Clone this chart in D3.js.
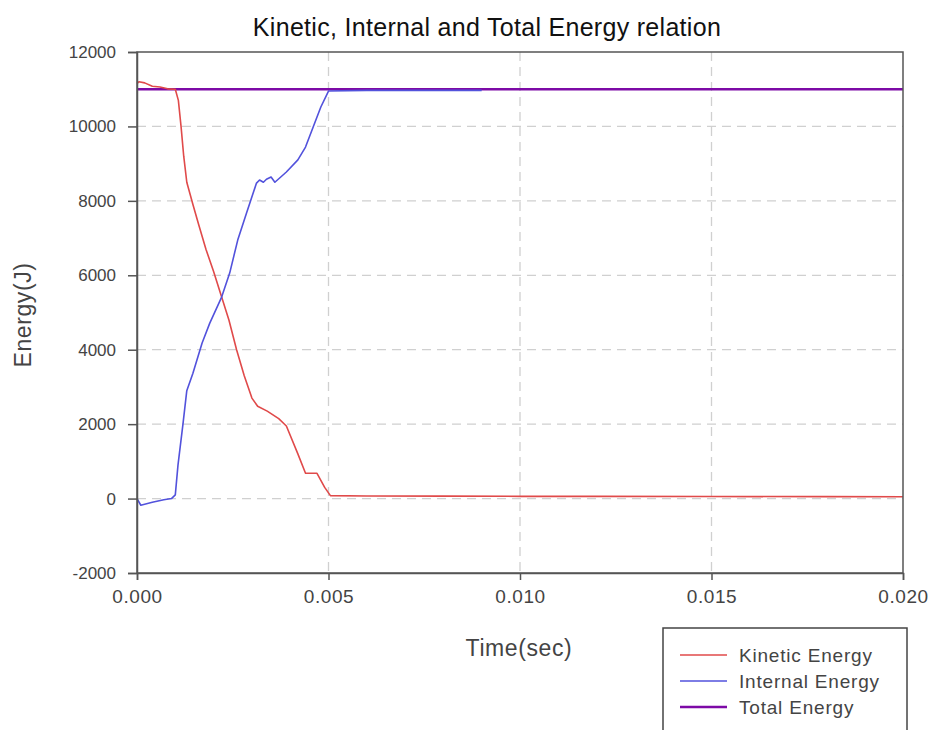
<!DOCTYPE html>
<html lang="en">
<head>
  <meta charset="UTF-8">
  <title>Kinetic, Internal and Total Energy relation</title>
  <script src="https://d3js.org/d3.v7.min.js"></script>
  <style>
    body { margin: 0; background: #fff; }
    svg text { font-family: "Liberation Sans", Arial, sans-serif; }
  </style>
</head>
<body>
  <div id="chart"></div>
  <script>
    // Kinetic energy (time in sec, energy in J)
    const kineticTime = [0, 0.00005, 0.0002, 0.0004, 0.0006, 0.0008, 0.001, 0.00108, 0.00115, 0.00122, 0.0013,
      0.00146, 0.0016, 0.0018, 0.002, 0.00221, 0.0024, 0.0026, 0.0028, 0.003, 0.00315, 0.0034,
      0.0037, 0.0039, 0.0042, 0.0044, 0.0047, 0.0049, 0.00505, 0.006, 0.008, 0.010, 0.012,
      0.015, 0.018, 0.020];
    const kineticEnergy = [11150, 11200, 11170, 11080, 11060, 11010, 11000, 10700, 10000, 9200, 8500,
      7900, 7400, 6700, 6100, 5414, 4800, 4000, 3300, 2700, 2480, 2350,
      2150, 1950, 1200, 680, 680, 300, 80, 70, 65, 60, 58,
      55, 52, 50];

    // Internal energy
    const internalTime = [0, 0.0001, 0.0004, 0.0007, 0.0009, 0.001, 0.00107, 0.0012, 0.00125, 0.0013,
      0.00146, 0.0017, 0.0019, 0.00221, 0.00242, 0.00263, 0.00286, 0.00312, 0.0032, 0.0033,
      0.00338, 0.0035, 0.0036, 0.0039, 0.0042, 0.0044, 0.0046, 0.0048, 0.005, 0.006, 0.009];
    const internalEnergy = [0, -180, -100, -30, 0, 100, 900, 2000, 2450, 2900,
      3370, 4180, 4715, 5414, 6059, 6946, 7672, 8478, 8560, 8500,
      8580, 8640, 8500, 8775, 9100, 9446, 9984, 10522, 10950, 10970, 10970];

    // Total energy
    const totalTime = [0, 0.005, 0.010, 0.015, 0.020];
    const totalEnergy = [11000, 11000, 11000, 11000, 11000];

    const xTicks = [0, 0.005, 0.010, 0.015, 0.020];
    const yTicks = [-2000, 0, 2000, 4000, 6000, 8000, 10000, 12000];
    const seriesNames = ["Kinetic Energy", "Internal Energy", "Total Energy"];
    const seriesColors = ["#e04a4a", "#5252dc", "#7d0aa6"];

    const width = 932, height = 730;
    const margin = { top: 52, right: 29, bottom: 157, left: 137 };
    const plotW = width - margin.left - margin.right;
    const plotH = height - margin.top - margin.bottom;

    const svg = d3.select("#chart").append("svg")
      .attr("width", width)
      .attr("height", height);

    const x = d3.scaleLinear().domain([0, 0.020]).range([0, plotW]);
    const y = d3.scaleLinear().domain([-2000, 12000]).range([plotH, 0]);

    const g = svg.append("g")
      .attr("transform", `translate(${margin.left},${margin.top})`);

    // Grid
    g.append("g").selectAll("line")
      .data(yTicks.filter(d => d > -2000 && d < 12000))
      .enter().append("line")
      .attr("x1", 0).attr("x2", plotW)
      .attr("y1", d => y(d)).attr("y2", d => y(d))
      .attr("stroke", "#d0d0d0")
      .attr("stroke-width", 1.3)
      .attr("stroke-dasharray", "9,6");

    g.append("g").selectAll("line")
      .data(xTicks.filter(d => d > 0 && d < 0.020))
      .enter().append("line")
      .attr("x1", d => x(d)).attr("x2", d => x(d))
      .attr("y1", 0).attr("y2", plotH)
      .attr("stroke", "#d0d0d0")
      .attr("stroke-width", 1.3)
      .attr("stroke-dasharray", "9,6");

    // Lines
    const line = d3.line().x(d => x(d[0])).y(d => y(d[1]));
    const series = [
      { time: totalTime, energy: totalEnergy, width: 2.6 },
      { time: kineticTime, energy: kineticEnergy, width: 1.6 },
      { time: internalTime, energy: internalEnergy, width: 1.6 }
    ];
    const colorIndex = [2, 0, 1];
    series.forEach((s, i) => {
      g.append("path")
        .datum(s.time.map((t, j) => [t, s.energy[j]]))
        .attr("fill", "none")
        .attr("stroke", seriesColors[colorIndex[i]])
        .attr("stroke-width", s.width)
        .attr("stroke-linejoin", "round")
        .attr("d", line);
    });

    // Frame
    g.append("rect")
      .attr("width", plotW).attr("height", plotH)
      .attr("fill", "none")
      .attr("stroke", "#555")
      .attr("stroke-width", 1.5);

    // Axes
    const xAxis = g.append("g")
      .attr("transform", `translate(0,${plotH})`)
      .call(d3.axisBottom(x).tickValues(xTicks).tickFormat(d3.format(".3f")).tickSize(7).tickPadding(10));
    const yAxis = g.append("g")
      .call(d3.axisLeft(y).tickValues(yTicks).tickFormat(d => String(d)).tickSize(9).tickPadding(12));

    [xAxis, yAxis].forEach(a => {
      a.select(".domain").attr("stroke", "#555").attr("stroke-width", 1.5);
      a.selectAll(".tick line").attr("stroke", "#555").attr("stroke-width", 1.5);
      a.selectAll(".tick text")
        .attr("fill", "#444")
        .style("font-family", "'Liberation Sans', Arial, sans-serif");
    });
    xAxis.selectAll(".tick text").style("font-size", "19px").style("letter-spacing", "0.6px");
    yAxis.selectAll(".tick text").style("font-size", "17px");

    // Title
    svg.append("text")
      .attr("x", 487).attr("y", 36)
      .attr("text-anchor", "middle")
      .attr("fill", "#111")
      .style("font-size", "25px")
      .style("letter-spacing", "0.3px")
      .text("Kinetic, Internal and Total Energy relation");

    // Axis labels
    svg.append("text")
      .attr("x", 519).attr("y", 656)
      .attr("text-anchor", "middle")
      .attr("fill", "#444")
      .style("font-size", "23px")
      .style("letter-spacing", "0.6px")
      .text("Time(sec)");

    svg.append("text")
      .attr("transform", "translate(31,315) rotate(-90)")
      .attr("text-anchor", "middle")
      .attr("fill", "#444")
      .style("font-size", "23px")
      .style("letter-spacing", "0.6px")
      .text("Energy(J)");

    // Legend
    const legend = svg.append("g").attr("transform", "translate(663,628)");
    legend.append("rect")
      .attr("width", 244).attr("height", 110)
      .attr("fill", "#fff")
      .attr("stroke", "#444")
      .attr("stroke-width", 1.5);

    seriesNames.forEach((name, i) => {
      const row = legend.append("g").attr("transform", `translate(0,${27 + i * 26})`);
      row.append("line")
        .attr("x1", 17).attr("x2", 64)
        .attr("stroke", seriesColors[i])
        .attr("stroke-width", i === 2 ? 2.6 : 1.6);
      row.append("text")
        .attr("x", 76).attr("y", 7)
        .attr("fill", "#444")
        .style("font-size", "19px")
        .style("letter-spacing", "0.8px")
        .text(name);
    });
  </script>
</body>
</html>
